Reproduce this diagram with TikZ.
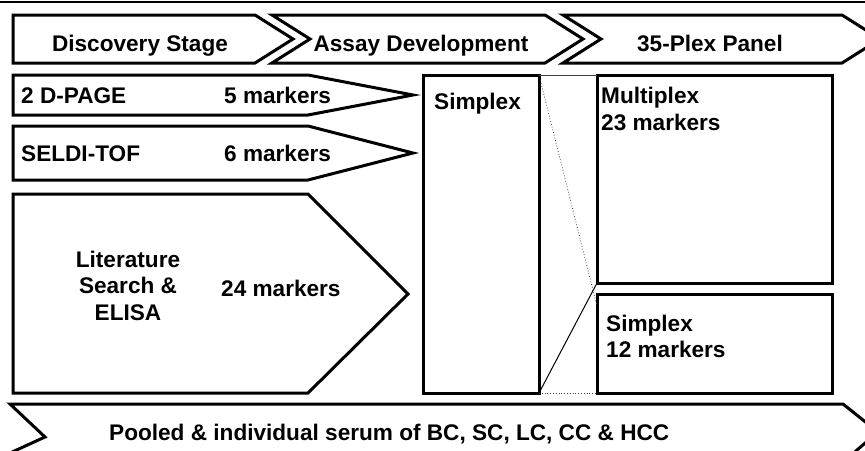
\documentclass[tikz,border=0pt]{standalone}
\usepackage{fontspec}
\setmainfont{Liberation Sans}
\usetikzlibrary{calc}
\begin{document}
\begin{tikzpicture}[x=1pt,y=-1pt,
  box/.style={draw=black,line width=3pt,line join=miter},
  rbox/.style={box,inner sep=0pt,outer sep=0pt,anchor=north west},
  lbl/.style={font=\bfseries\fontsize{22.6}{26}\selectfont,inner sep=0pt},
  thinline/.style={line width=0.8pt,black!75},
  dotline/.style={line width=0.8pt,dotted,black!75}]
\useasboundingbox (0,0) rectangle (865,450);
\clip (0,0) rectangle (865,450);
% top rule
\draw[line width=1.2pt] (0,2) -- (865,2);
% stage chevrons
\draw[box] (13,15) -- (255,15) -- (293,39) -- (255,63) -- (13,63) -- cycle;
\draw[box] (272,15) -- (545,15) -- (583,39) -- (545,63) -- (272,63) -- (310,39) -- cycle;
\draw[box] (563,15) -- (842,15) -- (880,39) -- (842,63) -- (563,63) -- (601,39) -- cycle;
% discovery rows
\draw[box] (13,75) -- (308,75) -- (413,95) -- (308,115) -- (13,115) -- cycle;
\draw[box] (13,126) -- (308,126) -- (413,153) -- (308,180) -- (13,180) -- cycle;
\draw[box] (13,194) -- (308,194) -- (408,294) -- (308,393) -- (13,393) -- cycle;
% bottom bar
\draw[box] (10,404) -- (843,404) -- (878,432) -- (843,462) -- (10,462) -- (10,453) -- (45,437) -- cycle;
% boxes
\node[rbox,minimum width=116pt,minimum height=318pt] (simp) at (423,75) {};
\node[rbox,minimum width=235pt,minimum height=208pt] (multi) at (597,75) {};
\node[rbox,minimum width=235pt,minimum height=99pt] (simp2) at (597,294) {};
% connectors
\draw[thinline] (simp.north east) -- (multi.north west);
\draw[dotline] (simp.north east) -- ([yshift=-12pt]simp2.north west);
\draw[line width=1pt] (simp.south east) -- (multi.south west);
\draw[dotline] (simp.south east) -- (simp2.south west);
% labels
\node[lbl,anchor=base] (h1) at (140,51.5) {Discovery Stage};
\node[lbl,anchor=base] (h2) at (421,51.5) {Assay Development};
\node[lbl,anchor=base] (h3) at (710,51.5) {35-Plex Panel};
\node[lbl,anchor=base west] (r1) at (21,103) {2 D-PAGE};
\node[lbl,anchor=base west] (r1m) at (224,103) {5 markers};
\node[lbl,anchor=base west] (r2) at (21,161) {SELDI-TOF};
\node[lbl,anchor=base west] (r2m) at (224,161) {6 markers};
\node[lbl,anchor=base] (r3a) at (128,267) {Literature};
\node[lbl,anchor=base] (r3b) at (128,293.5) {Search \&};
\node[lbl,anchor=base] (r3c) at (128,320) {ELISA};
\node[lbl,anchor=base west] (r3m) at (221,296) {24 markers};
\node[lbl,anchor=base west] (s1) at (434,109) {Simplex};
\node[lbl,anchor=base west] (m1) at (601,103) {Multiplex};
\node[lbl,anchor=base west] (m2) at (601,130) {23 markers};
\node[lbl,anchor=base west] (s2a) at (606,331) {Simplex};
\node[lbl,anchor=base west] (s2b) at (606,357) {12 markers};
\node[lbl,anchor=base west] (b1) at (109,440) {Pooled \& individual serum of BC, SC, LC, CC \& HCC};
\end{tikzpicture}
\end{document}
